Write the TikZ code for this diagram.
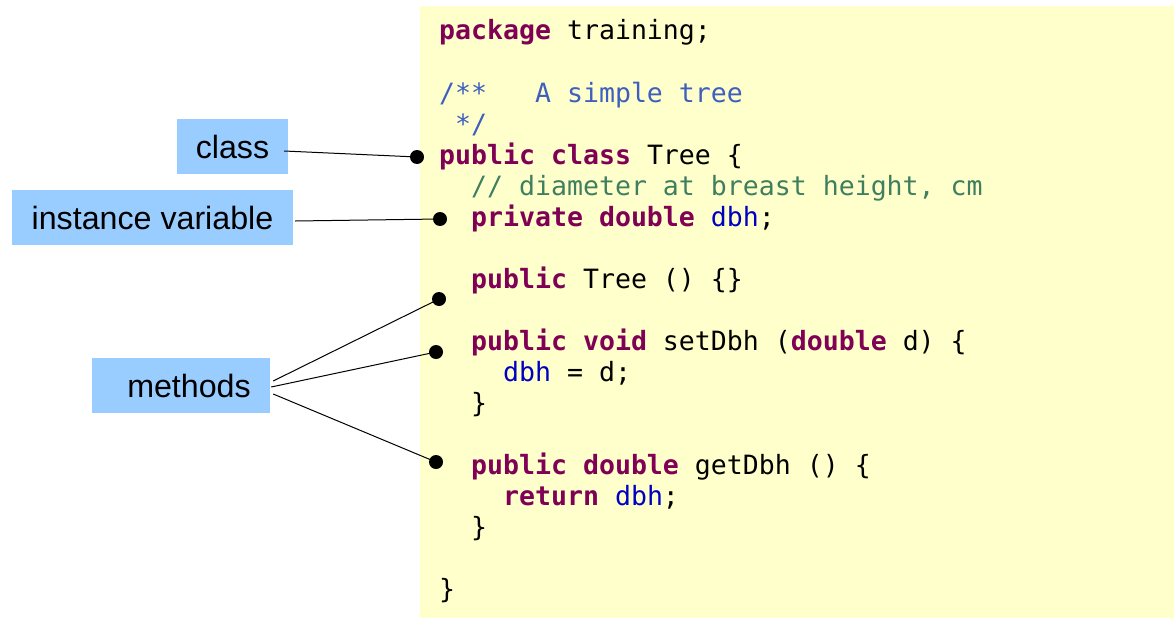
\documentclass[tikz,border=0pt]{standalone}
\usepackage{fontspec}
\setmainfont{Liberation Sans}
\newfontfamily\codefont{DejaVu Sans Mono}
\definecolor{kwcol}{HTML}{7F0055}
\definecolor{jdcol}{HTML}{3F5FBF}
\definecolor{cmcol}{HTML}{3F7F5F}
\definecolor{fldcol}{HTML}{0000C0}
\definecolor{bgyel}{HTML}{FFFFCC}
\definecolor{lblue}{HTML}{99CCFF}
\newcommand\ckw[1]{{\color{kwcol}\bfseries #1}}
\newcommand\cjd[1]{{\color{jdcol}#1}}
\newcommand\ccm[1]{{\color{cmcol}#1}}
\newcommand\cfld[1]{{\color{fldcol}#1}}
\begin{document}
\begin{tikzpicture}[x=1pt,y=-1pt,
  code/.style={anchor=base west, inner sep=0pt, font=\codefont\fontsize{26.55}{31}\selectfont},
  lbl/.style={fill=lblue, inner sep=0pt, font=\fontsize{32.2}{36}\selectfont},
  dot/.style={circle, fill=black, inner sep=0pt, minimum size=14},
  conn/.style={line width=1}]
\useasboundingbox (0,0) rectangle (1174,618);
\fill[bgyel] (420,6) rectangle (1174,618);
% code lines
\node[code] (l0) at (439,40) {\ckw{package} training;};
\node[code] (l2) at (439,102) {\cjd{/**\ \ \ A simple tree}};
\node[code] (l3) at (439,133) {\cjd{\ */}};
\node[code] (l4) at (439,164) {\ckw{public class} Tree \{};
\node[code] (l5) at (439,195) {\ \ \ccm{// diameter at breast height, cm}};
\node[code] (l6) at (439,226) {\ \ \ckw{private double} \cfld{dbh};};
\node[code] (l8) at (439,288) {\ \ \ckw{public} Tree () \{\}};
\node[code] (l10) at (439,350) {\ \ \ckw{public void} setDbh (\ckw{double} d) \{};
\node[code] (l11) at (439,381) {\ \ \ \ \cfld{dbh} = d;};
\node[code] (l12) at (439,412) {\ \ \}};
\node[code] (l14) at (439,474) {\ \ \ckw{public double} getDbh () \{};
\node[code] (l15) at (439,505) {\ \ \ \ \ckw{return} \cfld{dbh};};
\node[code] (l16) at (439,536) {\ \ \}};
\node[code] (l18) at (439,598) {\}};
% labels
\node[lbl, minimum width=111, minimum height=55] (cls) at (232.5,146.5) {class};
\node[lbl, minimum width=281, minimum height=55] (iv) at (152.5,217.5) {instance variable};
\node[lbl, minimum width=178, minimum height=55] (meth) at (181,385.5) {\hspace{16pt}methods};
% dots
\node[dot] (d1) at (417,157) {};
\node[dot] (d2) at (440,219) {};
\node[dot] (d3) at (439,299) {};
\node[dot] (d4) at (436,352) {};
\node[dot] (d5) at (436,462) {};
% connectors
\draw[conn] ([xshift=-4,yshift=-4.5]cls.east) -- (d1.center);
\draw[conn] ([xshift=2,yshift=-3.5]iv.east) -- (d2.center);
\draw[conn] ([xshift=3,yshift=4.5]meth.east) -- (d3.center);
\draw[conn] ([xshift=1,yshift=-1.5]meth.east) -- (d4.center);
\draw[conn] ([xshift=3,yshift=-8.5]meth.east) -- (d5.center);
\end{tikzpicture}
\end{document}
